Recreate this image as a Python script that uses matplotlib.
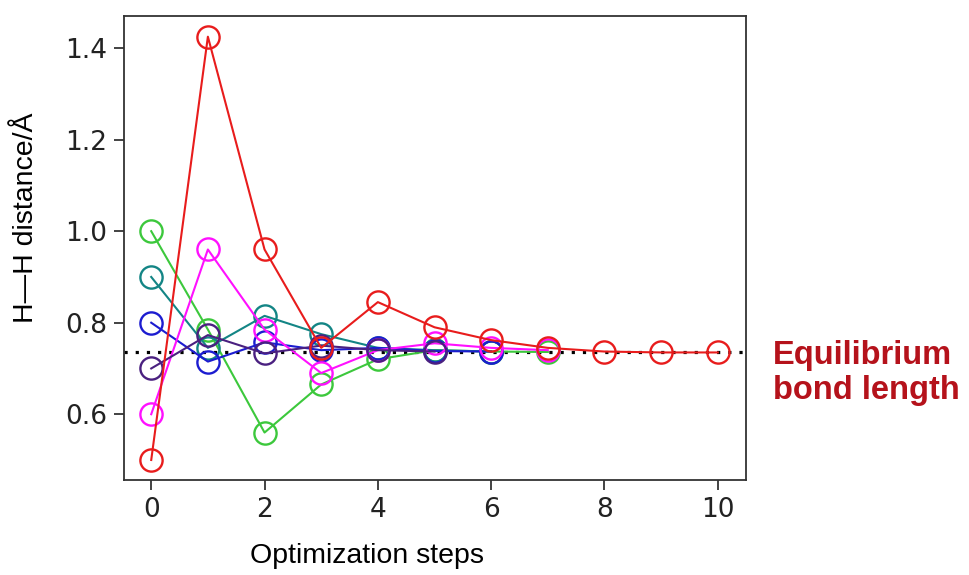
import matplotlib.pyplot as plt

# H-H distance for each starting guess, per optimization step
red = [0.50, 1.425, 0.96, 0.745, 0.845, 0.79, 0.762, 0.745, 0.737, 0.735, 0.735]
green = [1.00, 0.785, 0.56, 0.665, 0.72, 0.74, 0.737, 0.736]
magenta = [0.60, 0.96, 0.785, 0.69, 0.74, 0.755, 0.745, 0.74]
teal = [0.90, 0.745, 0.815, 0.775, 0.745, 0.74, 0.737]
blue = [0.80, 0.715, 0.757, 0.74, 0.745, 0.738, 0.737]
indigo = [0.70, 0.773, 0.733, 0.75, 0.74, 0.737]
equilibrium = 0.735

series = [
    (green, "#3cc83c"),
    (teal, "#138585"),
    (blue, "#1c1cd0"),
    (magenta, "#ff10ff"),
    (indigo, "#4a2080"),
    (red, "#e81c1c"),
]

fig = plt.figure(figsize=(9.69, 5.75), dpi=100)
ax = fig.add_axes([0.128, 0.165, 0.642, 0.807])

for values, color in series:
    ax.plot(range(len(values)), values, color=color, lw=1.5,
            marker="o", markersize=16, markerfacecolor="none",
            markeredgewidth=1.7, markeredgecolor=color)

ax.axhline(equilibrium, color="black", ls=(0, (1, 2.5)), lw=2.3, zorder=0.5)

ax.set_xlim(-0.48, 10.5)
ax.set_ylim(0.456, 1.47)
ax.set_xticks([0, 2, 4, 6, 8, 10])
ax.set_yticks([0.6, 0.8, 1.0, 1.2, 1.4])
ax.tick_params(labelsize=19, length=7, width=1.2, pad=5, colors="#222222")
for s in ax.spines.values():
    s.set_linewidth(1.3)
    s.set_color("#333333")

fig.text(0.027, 1 - 218 / 575, "H\u2014H distance/\u00c5", rotation=90,
         ha="center", va="center", fontsize=20.5, family="Liberation Sans")
fig.text(367 / 969, 1 - 556 / 575, "Optimization steps", ha="center",
         va="center", fontsize=20.5, family="Liberation Sans")
fig.text(773 / 969, 1 - 373 / 575, "Equilibrium\nbond length", ha="left",
         va="center", fontsize=23.5, fontweight="bold", color="#b5121b",
         family="Liberation Sans", linespacing=1.2)

fig.savefig("out.png", dpi=100)
